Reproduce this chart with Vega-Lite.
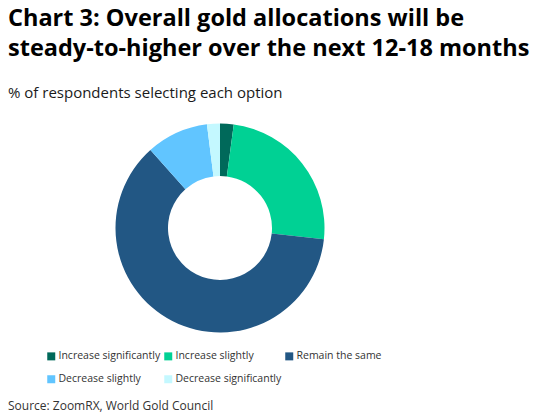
{
  "$schema": "https://vega.github.io/schema/vega-lite/v6.json",
  "padding": {"left": 8, "top": 6, "right": 6, "bottom": 0},
  "background": "white",
  "title": {
    "text": ["Chart 3: Overall gold allocations will be", "steady-to-higher over the next 12-18 months"],
    "subtitle": "% of respondents selecting each option",
    "anchor": "start",
    "font": "Open Sans",
    "fontSize": 23.5,
    "fontWeight": "bold",
    "lineHeight": 30,
    "color": "#000000",
    "subtitleFont": "Open Sans",
    "subtitleFontSize": 15,
    "subtitleColor": "#1a1a1a",
    "subtitlePadding": 26,
    "offset": 22
  },
  "bounds": "flush",
  "spacing": 78,
  "resolve": {"scale": {"color": "independent"}, "legend": {"color": "independent"}},
  "vconcat": [
    {
      "width": 348,
      "height": 210,
      "data": {
        "values": [
          {"option": "Increase significantly", "pct": 2.1, "rank": 1},
          {"option": "Increase slightly", "pct": 24.6, "rank": 2},
          {"option": "Remain the same", "pct": 61.7, "rank": 3},
          {"option": "Decrease slightly", "pct": 9.6, "rank": 4},
          {"option": "Decrease significantly", "pct": 2.0, "rank": 5}
        ]
      },
      "mark": {"type": "arc", "innerRadius": 52, "outerRadius": 104.5},
      "encoding": {
        "theta": {"field": "pct", "type": "quantitative", "stack": true},
        "order": {"field": "rank", "type": "quantitative"},
        "color": {
          "field": "option",
          "type": "nominal",
          "scale": {
            "domain": ["Increase significantly", "Increase slightly", "Remain the same", "Decrease slightly", "Decrease significantly"],
            "range": ["#00695a", "#00d194", "#225784", "#61c5ff", "#c4f8ff"]
          },
          "legend": {
            "orient": "bottom",
            "title": null,
            "columns": 3,
            "direction": "horizontal",
            "symbolType": "square",
            "symbolSize": 64,
            "symbolStrokeWidth": 0,
            "labelFontSize": 10.5,
            "labelColor": "#333333",
            "labelOffset": 2,
            "columnPadding": 2,
            "rowPadding": 12,
            "offset": 18
          }
        }
      }
    },
    {
      "width": 348,
      "height": 1,
      "data": {"values": []},
      "mark": "point",
      "title": {
        "text": "Source: ZoomRX, World Gold Council",
        "anchor": "start",
        "dx": -38,
        "font": "Open Sans",
        "fontSize": 12,
        "fontWeight": "normal",
        "color": "#333333",
        "offset": -2
      }
    }
  ],
  "config": {
    "view": {"stroke": null},
    "font": "Open Sans"
  }
}
